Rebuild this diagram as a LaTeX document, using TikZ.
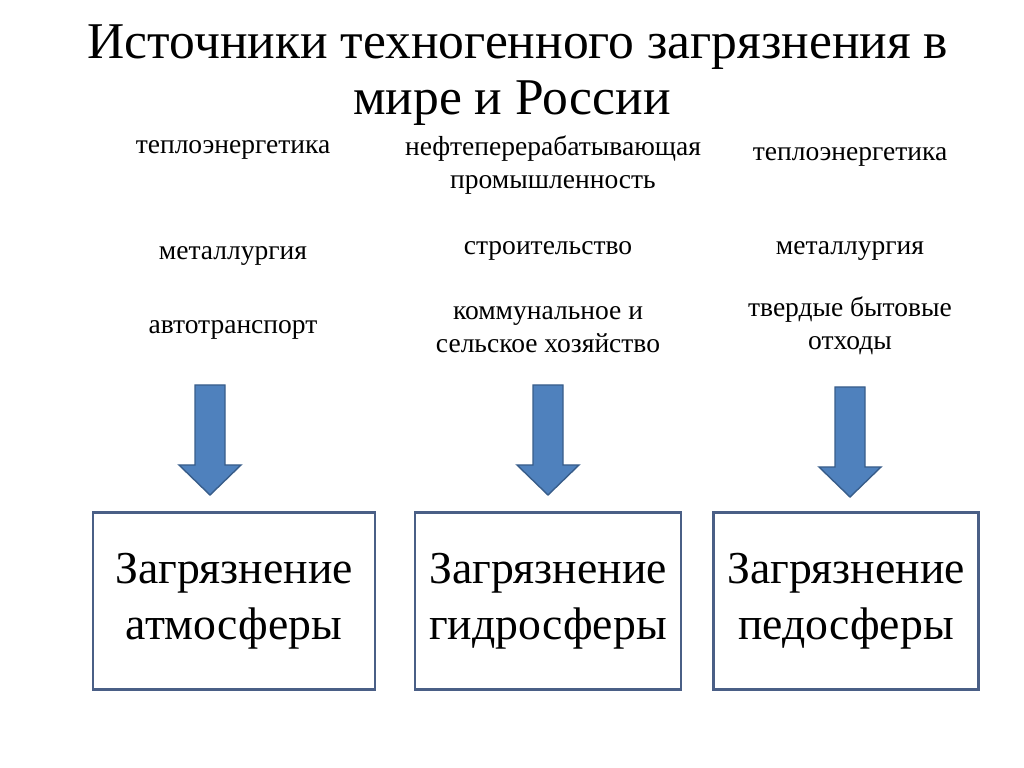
\documentclass[tikz,border=0pt]{standalone}
\usepackage{fontspec}
\setmainfont{Liberation Serif}
\usepackage{xcolor}
\usetikzlibrary{arrows,shapes}
\definecolor{arrowfill}{HTML}{4F81BD}
\definecolor{arrowline}{HTML}{385D8A}
\definecolor{boxline}{HTML}{4A5F86}
\tikzset{
	src/.style={font=\fontsize{23.5}{28}\selectfont,align=center},
	sphere/.style={draw=boxline,line width=2.2pt,font=\fontsize{39}{48}\selectfont,align=center},
	blockarrow/.style={fill=arrowfill,draw=arrowline,line width=1.2pt}
}
\newcommand{\downarrowat}[2]{%
	\draw[blockarrow] (#1-15,#2) -- (#1+15,#2) -- (#1+15,#2+80) -- (#1+31,#2+80)
	-- (#1,#2+110) -- (#1-31,#2+80) -- (#1-15,#2+80) -- cycle;}
\begin{document}
\begin{tikzpicture}[x=0.03cm,y=-0.03cm]
	\useasboundingbox (0,0) rectangle (1024,768);
	% title
	\node (title1) at (518,47) {\fontsize{44}{50}\selectfont Источники техногенного загрязнения в};
	\node (title2) at (512,103) {\fontsize{44}{50}\selectfont мире и России};
	% sources
	\node[src] (a1) at (233,150) {теплоэнергетика};
	\node[src] (a2) at (233,256) {металлургия};
	\node[src] (a3) at (233,330) {автотранспорт};
	\node[src] (b1) at (553,165) {нефтеперерабатывающая\\промышленность};
	\node[src] (b2) at (548,251) {строительство};
	\node[src] (b3) at (548,330) {коммунальное и\\сельское хозяйство};
	\node[src] (c1) at (850,157) {теплоэнергетика};
	\node[src] (c2) at (850,251) {металлургия};
	\node[src] (c3) at (850,326) {твердые бытовые\\отходы};
	% arrows
	\downarrowat{210}{385}
	\downarrowat{548}{385}
	\downarrowat{850}{387}
	% spheres
	\node[sphere,minimum width=282*0.03cm,minimum height=177*0.03cm] (A) at (234,601) {Загрязнение\\атмосферы};
	\node[sphere,minimum width=266*0.03cm,minimum height=177*0.03cm] (B) at (548,601) {Загрязнение\\гидросферы};
	\node[sphere,minimum width=265*0.03cm,minimum height=177*0.03cm] (C) at (846,601) {Загрязнение\\педосферы};
\end{tikzpicture}
\end{document}
